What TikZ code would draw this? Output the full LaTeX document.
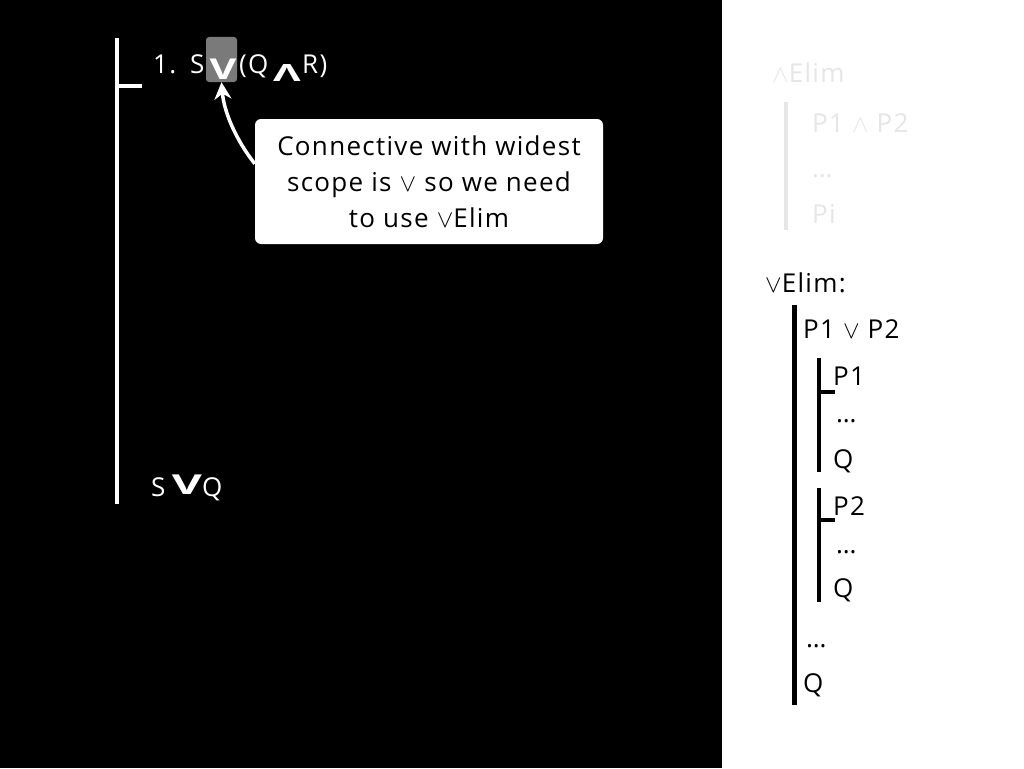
\documentclass[tikz,border=0pt]{standalone}
\usepackage{fontspec}
\setmainfont{Open Sans}[LetterSpace=5]
\usetikzlibrary{arrows.meta}
\definecolor{faint}{HTML}{E6E6E6}
\definecolor{markgray}{HTML}{7A7A7A}
\begin{document}
\begin{tikzpicture}[x=1pt,y=-1pt,
	txt/.style={anchor=base west,inner sep=0pt,font=\fontsize{26}{32}\selectfont},
	wtxt/.style={txt,text=white},
	ftxt/.style={txt,text=faint},
	bigv/.style={inner sep=0pt,text=white,font=\fontsize{25}{32}\selectfont\bfseries},
	bar/.style={line width=4pt},
	arrow/.style={white,line width=3.5pt,-{Stealth[length=17pt,width=17pt]}}]
	\useasboundingbox (0,0) rectangle (1024,768);
	\fill[black] (0,0) rectangle (722,768);
	\fill[white] (722,0) rectangle (1024,768);
	% proof on the left
	\draw[white,bar] (117,38) -- (117,504);
	\draw[white,bar] (117,86) -- (142,86);
	\node[wtxt] (num) at (153,74) {1.};
	\node[wtxt] (s1) at (190,74) {S};
	\node[fill=markgray,rounded corners=3pt,minimum width=31pt,minimum height=45pt,
		inner sep=0pt] (vbox) at (221.5,59.5) {};
	\node[bigv] (v1) at (223,69) {\scalebox{1.65}[1.15]{V}};
	\node[wtxt] (q1) at (239,74) {(Q};
	\node[bigv] (wedge) at (287,73) {\scalebox{1.7}[-0.95]{V}};
	\node[wtxt] (r1) at (302,74) {R)};
	\node[wtxt] (s2) at (151,496) {S};
	\node[bigv] (v2) at (187,485) {\scalebox{1.85}[1.1]{V}};
	\node[wtxt] (q2) at (202,496) {Q};
	% callout
	\node[fill=white,rounded corners=6pt,minimum width=348pt,minimum height=125pt,
		align=center,font=\fontsize{26}{36}\selectfont] (scopenote) at (429,181.5)
		{Connective with widest\\scope is $\vee$ so we need\\to use $\vee$Elim};
	\draw[arrow] ([yshift=-45pt]scopenote.north west) .. controls (236,140) and (224,112) .. (vbox.south);
	% faded rule
	\node[ftxt] (andelim) at (772,82) {$\wedge$Elim};
	\draw[faint,bar] (786,102) -- (786,230);
	\node[ftxt] (andprem) at (812,132) {P1 $\wedge$ P2};
	\node[ftxt] (anddots) at (812,177) {\ldots};
	\node[ftxt] (andconc) at (812,223) {Pi};
	% or elimination rule
	\node[txt] (orelim) at (765,292) {$\vee$Elim:};
	\draw[bar,line width=5pt] (794,305) -- (794,705);
	\node[txt] (orprem) at (803,338) {P1 $\vee$ P2};
	\draw[bar] (819,358) -- (819,472);
	\draw[bar] (819,392) -- (835,392);
	\node[txt] (casea) at (833,385) {P1};
	\node[txt] (dotsa) at (836,422) {\ldots};
	\node[txt] (qa) at (833,468) {Q};
	\draw[bar] (819,488) -- (819,602);
	\draw[bar] (819,520) -- (835,520);
	\node[txt] (caseb) at (833,515) {P2};
	\node[txt] (dotsb) at (836,553) {\ldots};
	\node[txt] (qb) at (833,597) {Q};
	\node[txt] (dotsc) at (806,647) {\ldots};
	\node[txt] (qc) at (803,692) {Q};
\end{tikzpicture}
\end{document}
